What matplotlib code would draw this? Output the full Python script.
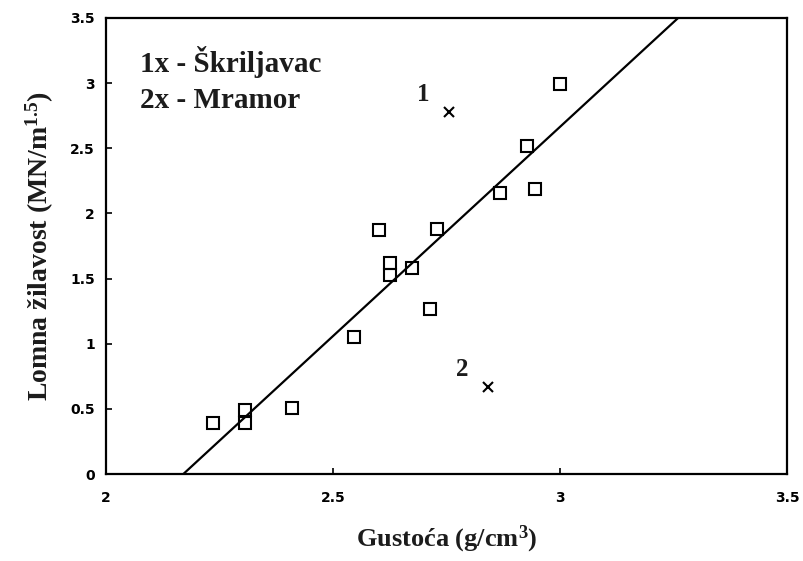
import numpy as np
import matplotlib
matplotlib.use("Agg")
import matplotlib.pyplot as plt

# gustoca (g/cm3) i lomna zilavost (MN/m^1.5)
gustoca = [2.236, 2.306, 2.306, 2.41, 2.546, 2.60, 2.626, 2.626, 2.674,
           2.714, 2.729, 2.868, 2.927, 2.945, 3.0]
zilavost = [0.39, 0.49, 0.39, 0.51, 1.05, 1.87, 1.62, 1.53, 1.58,
            1.27, 1.88, 2.16, 2.52, 2.19, 2.99]

# izdvojeni uzorci: 1 - skriljavac, 2 - mramor
izdvojeni_x = [2.756, 2.842]
izdvojeni_y = [2.78, 0.67]
izdvojeni_oznake = ["1", "2"]

# pravac regresije
pravac_x = [2.17, 3.26]
pravac_y = [0.0, 3.5]

boja_teksta = "#1c1c1c"
serif = ["Liberation Serif", "DejaVu Serif"]

# eksponenti u istom fontu kao i tekst
plt.rcParams["mathtext.fontset"] = "custom"
plt.rcParams["mathtext.rm"] = "Liberation Serif:bold"
plt.rcParams["mathtext.it"] = "Liberation Serif:bold"
plt.rcParams["mathtext.bf"] = "Liberation Serif:bold"

fig = plt.figure(figsize=(8.04, 5.61), dpi=100)
ax = fig.add_axes([0.132, 0.155, 0.847, 0.813])

ax.plot(pravac_x, pravac_y, color="black", lw=1.6)
ax.plot(gustoca, zilavost, linestyle="none", marker="s", markersize=9,
        markerfacecolor="none", markeredgecolor="black", markeredgewidth=1.5)
ax.plot(izdvojeni_x, izdvojeni_y, linestyle="none", marker="x", markersize=7,
        color="black", markeredgewidth=1.5)

# oznake 1 i 2 gore lijevo od krizica
for x, y, t in zip(izdvojeni_x, izdvojeni_y, izdvojeni_oznake):
    ax.annotate(t, (x, y), xytext=(-23, 8), textcoords="offset points",
                fontsize=18, fontweight="bold", family=serif, color=boja_teksta)

ax.text(2.075, 3.16, "1x - Škriljavac", fontsize=21, fontweight="bold",
        family=serif, color=boja_teksta, va="center")
ax.text(2.075, 2.87, "2x - Mramor", fontsize=21, fontweight="bold",
        family=serif, color=boja_teksta, va="center")

ax.set_xlim(2, 3.5)
ax.set_ylim(0, 3.5)
ax.set_xticks([2, 2.5, 3, 3.5])
ax.set_xticklabels(["2", "2.5", "3", "3.5"])
ax.set_yticks([0, 0.5, 1, 1.5, 2, 2.5, 3, 3.5])
ax.set_yticklabels(["0", "0.5", "1", "1.5", "2", "2.5", "3", "3.5"])
ax.tick_params(direction="in", length=4, width=1.2, labelsize=10)
ax.tick_params(axis="x", pad=12)
ax.tick_params(axis="y", pad=8)
for lab in ax.get_xticklabels() + ax.get_yticklabels():
    lab.set_fontweight("bold")
for s in ax.spines.values():
    s.set_linewidth(1.6)

ax.set_xlabel("Gustoća (g/cm$^{3}$)", fontsize=19, fontweight="bold",
              family=serif, color=boja_teksta, labelpad=14)
ax.set_ylabel("Lomna žilavost (MN/m$^{1.5}$)", fontsize=20, fontweight="bold",
              family=serif, color=boja_teksta, labelpad=10)

fig.savefig("out.png", dpi=100)
